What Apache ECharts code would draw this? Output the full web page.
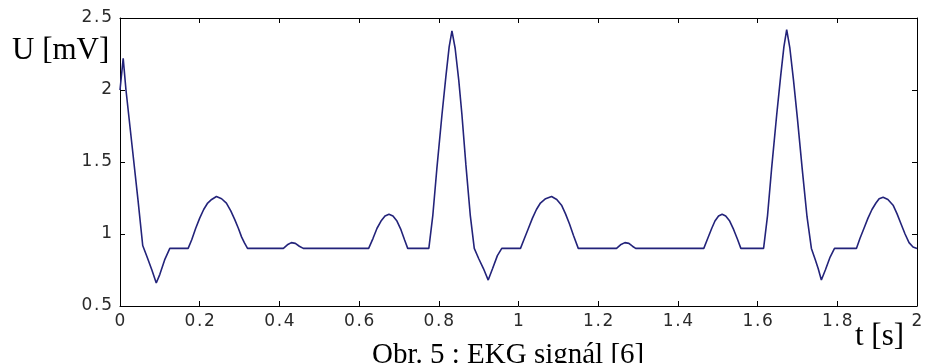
<!DOCTYPE html>
<html>
<head>
<meta charset="utf-8">
<title>EKG signál</title>
<script src="https://cdn.jsdelivr.net/npm/echarts@6/dist/echarts.min.js"></script>
<style>
  html, body { margin: 0; padding: 0; background: #ffffff; }
  #chart { width: 927px; height: 363px; }
</style>
</head>
<body>
<div id="chart"></div>
<script>
// Time samples [s]
const tSec = [
  0.000, 0.008, 0.015, 0.030, 0.045, 0.057, 0.068, 0.080, 0.091, 0.100, 0.112, 0.125,
  0.171, 0.180, 0.190, 0.200, 0.210, 0.220, 0.230, 0.242, 0.255, 0.267, 0.278, 0.288, 0.297, 0.305, 0.312, 0.320,
  0.410, 0.420, 0.430, 0.440, 0.450, 0.460,
  0.624, 0.635, 0.645, 0.655, 0.665, 0.675, 0.685, 0.695, 0.705, 0.714, 0.722,
  0.775, 0.785, 0.795, 0.808, 0.818, 0.826, 0.833, 0.841, 0.850, 0.858, 0.868, 0.879, 0.889,
  0.900, 0.912, 0.924, 0.935, 0.947, 0.958,
  1.005, 1.015, 1.025, 1.035, 1.045, 1.055, 1.068, 1.083, 1.096, 1.108, 1.118, 1.128, 1.138, 1.150,
  1.246, 1.256, 1.267, 1.277, 1.286, 1.294,
  1.465, 1.475, 1.485, 1.493, 1.502, 1.511, 1.520, 1.530, 1.540, 1.550, 1.558,
  1.615, 1.625, 1.635, 1.648, 1.658, 1.666, 1.673, 1.681, 1.690, 1.700, 1.712, 1.724, 1.735,
  1.745, 1.752, 1.760, 1.770, 1.782, 1.793,
  1.848, 1.857, 1.867, 1.877, 1.887, 1.897, 1.905, 1.915, 1.927, 1.940, 1.950, 1.960, 1.970, 1.980, 1.990, 2.000
];

// Voltage samples [mV]
const uMv = [
  2.00, 2.22, 2.00, 1.62, 1.24, 0.92, 0.84, 0.75, 0.66, 0.72, 0.82, 0.90,
  0.90, 0.96, 1.04, 1.11, 1.17, 1.215, 1.24, 1.26, 1.245, 1.215, 1.16, 1.10, 1.04, 0.98, 0.94, 0.90,
  0.90, 0.925, 0.94, 0.935, 0.915, 0.90,
  0.90, 0.97, 1.04, 1.09, 1.125, 1.137, 1.125, 1.09, 1.03, 0.96, 0.90,
  0.90, 1.13, 1.45, 1.83, 2.10, 2.30, 2.41, 2.29, 2.07, 1.83, 1.48, 1.13, 0.90,
  0.83, 0.76, 0.68, 0.76, 0.85, 0.90,
  0.90, 0.97, 1.04, 1.11, 1.17, 1.215, 1.245, 1.26, 1.24, 1.20, 1.14, 1.07, 0.99, 0.90,
  0.90, 0.925, 0.94, 0.935, 0.915, 0.90,
  0.90, 0.97, 1.04, 1.09, 1.125, 1.137, 1.125, 1.09, 1.03, 0.96, 0.90,
  0.90, 1.13, 1.45, 1.83, 2.10, 2.30, 2.42, 2.29, 2.07, 1.80, 1.45, 1.12, 0.90,
  0.82, 0.76, 0.68, 0.75, 0.84, 0.90,
  0.90, 0.97, 1.04, 1.11, 1.17, 1.215, 1.245, 1.255, 1.24, 1.20, 1.14, 1.07, 1.00, 0.94, 0.91, 0.90
];

// Axis ranges and tick steps
const xRange = [0, 2];
const xStep = 0.2;
const yRange = [0.5, 2.5];
const yStep = 0.5;

// Texts
const yTitle = 'U [mV]';
const xTitle = 't [s]';
const caption = 'Obr. 5 : EKG signál [6]';

const points = tSec.map((t, i) => [t, uMv[i]]);

const tickFont = { fontFamily: 'DejaVu Sans, Verdana, sans-serif', fontSize: 17, color: '#2a2a2a' };
const serif = 'Liberation Serif, Times New Roman, serif';

// Tick numbers drawn with hair spacing between the characters (wide plot font look)
function fmt(v) {
  return String(Math.round(v * 10) / 10).split('').join('\u200A');
}

const chart = echarts.init(document.getElementById('chart'), null, { renderer: 'canvas' });
chart.setOption({
  animation: false,
  backgroundColor: '#ffffff',
  grid: { left: 120, right: 10, top: 18, bottom: 57, containLabel: false },
  xAxis: [
    {
      type: 'value', min: xRange[0], max: xRange[1], interval: xStep,
      axisLine: { show: true, onZero: false, lineStyle: { color: '#000', width: 1 } },
      axisTick: { show: true, inside: true, length: 5, lineStyle: { color: '#000' } },
      axisLabel: Object.assign({ margin: 7, formatter: fmt }, tickFont),
      splitLine: { show: false }
    },
    {
      type: 'value', position: 'top', min: xRange[0], max: xRange[1], interval: xStep,
      axisLine: { show: true, onZero: false, lineStyle: { color: '#000', width: 1 } },
      axisTick: { show: true, inside: true, length: 5, lineStyle: { color: '#000' } },
      axisLabel: { show: false },
      splitLine: { show: false }
    }
  ],
  yAxis: [
    {
      type: 'value', min: yRange[0], max: yRange[1], interval: yStep,
      axisLine: { show: true, onZero: false, lineStyle: { color: '#000', width: 1 } },
      axisTick: { show: true, inside: true, length: 5, lineStyle: { color: '#000' } },
      axisLabel: Object.assign({ margin: 8, formatter: fmt }, tickFont),
      splitLine: { show: false }
    },
    {
      type: 'value', position: 'right', min: yRange[0], max: yRange[1], interval: yStep,
      axisLine: { show: true, onZero: false, lineStyle: { color: '#000', width: 1 } },
      axisTick: { show: true, inside: true, length: 5, lineStyle: { color: '#000' } },
      axisLabel: { show: false },
      splitLine: { show: false }
    }
  ],
  series: [
    {
      type: 'line',
      data: points,
      showSymbol: false,
      symbol: 'none',
      smooth: false,
      lineStyle: { color: '#23237a', width: 1.6 },
      clip: true
    }
  ],
  graphic: [
    {
      type: 'text', left: 12, top: 35,
      style: { text: yTitle, font: '31px ' + serif, fill: '#000' }
    },
    {
      type: 'text', left: 855, top: 321,
      style: { text: xTitle, font: '31px ' + serif, fill: '#000' }
    },
    {
      type: 'text', left: 372, top: 341,
      style: { text: caption, font: '29px ' + serif, fill: '#000' }
    }
  ]
});
</script>
</body>
</html>
